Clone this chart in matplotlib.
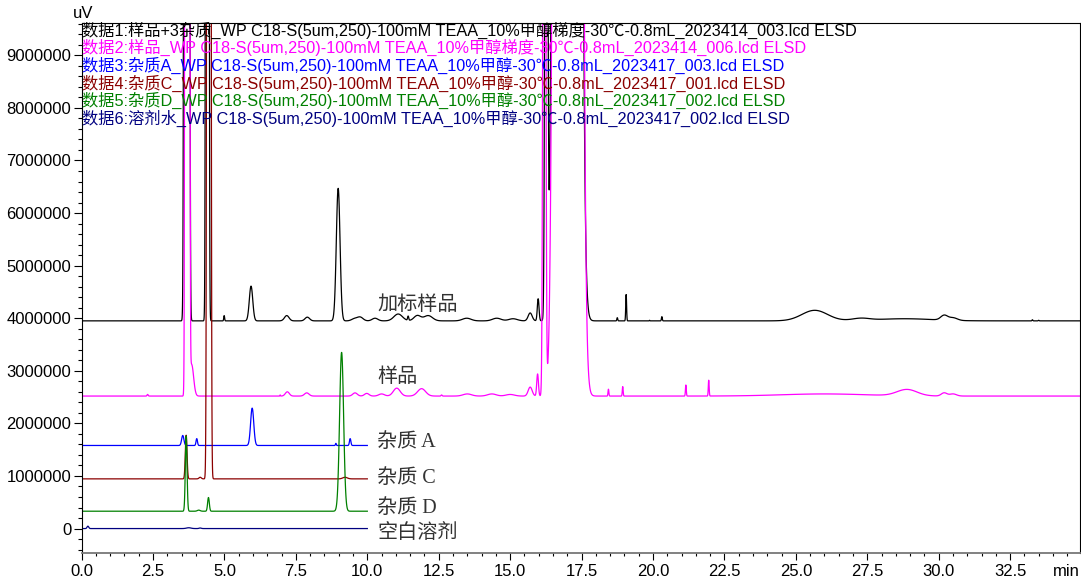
import numpy as np
import matplotlib
matplotlib.use('Agg')
import matplotlib.pyplot as plt
from matplotlib.ticker import MultipleLocator, FuncFormatter

plt.rcParams['font.family'] = ['Liberation Sans', 'Noto Sans CJK SC']
plt.rcParams['path.simplify'] = False

# header lines, one per run
run_names = [
    '数据1:样品+3杂质_WP C18-S(5um,250)-100mM TEAA_10%甲醇梯度-30℃-0.8mL_2023414_003.lcd ELSD',
    '数据2:样品_WP C18-S(5um,250)-100mM TEAA_10%甲醇梯度-30℃-0.8mL_2023414_006.lcd ELSD',
    '数据3:杂质A_WP C18-S(5um,250)-100mM TEAA_10%甲醇-30℃-0.8mL_2023417_003.lcd ELSD',
    '数据4:杂质C_WP C18-S(5um,250)-100mM TEAA_10%甲醇-30℃-0.8mL_2023417_001.lcd ELSD',
    '数据5:杂质D_WP C18-S(5um,250)-100mM TEAA_10%甲醇-30℃-0.8mL_2023417_002.lcd ELSD',
    '数据6:溶剂水_WP C18-S(5um,250)-100mM TEAA_10%甲醇-30℃-0.8mL_2023417_002.lcd ELSD',
]
trace_labels = ['加标样品', '样品', '杂质 A', '杂质 C', '杂质 D', '空白溶剂']
trace_colors = ['#000000', '#ff00ff', '#0000ff', '#8b0000', '#008000', '#000080']

# baseline level (uV) and run length (min) of each trace
baselines = [3.95e6, 2.52e6, 1.58e6, 0.945e6, 0.33e6, 0.0]
run_end = [35.0, 35.0, 10.0, 10.0, 10.0, 10.0]

# peak tables: retention time (min), height (uV), sigma (min)
# off-scale peaks get very large heights so they run past the top of the plot
spiked_rt = [3.68, 4.40, 4.99, 5.93, 7.18, 7.90, 8.98, 9.55, 9.75, 10.27, 11.08, 11.43, 11.75,
             12.13, 13.48, 14.53, 15.10, 15.70, 15.98, 16.265, 17.00, 18.75, 19.06, 19.88,
             20.31, 25.66, 27.27, 28.80, 30.19, 30.50, 33.28, 33.50]
spiked_h = [1e9, 2e8, 0.10e6, 0.66e6, 0.10e6, 0.07e6, 2.52e6, 0.04e6, 0.07e6, 0.05e6, 0.13e6,
            0.08e6, 0.10e6, 0.10e6, 0.05e6, 0.05e6, 0.04e6, 0.15e6, 0.42e6, 3e7, 1e9, 0.06e6,
            0.50e6, 0.01e6, 0.08e6, 0.20e6, 0.04e6, 0.04e6, 0.09e6, 0.05e6, 0.02e6, 0.01e6]
spiked_w = [0.037, 0.028, 0.015, 0.06, 0.08, 0.08, 0.065, 0.1, 0.1, 0.1, 0.15, 0.02, 0.12,
            0.15, 0.15, 0.15, 0.15, 0.07, 0.03, 0.035, 0.18, 0.015, 0.015, 0.01,
            0.015, 0.45, 0.3, 1.0, 0.12, 0.15, 0.015, 0.015]

sample_rt = [2.31, 3.70, 3.85, 6.95, 7.20, 7.88, 9.57, 9.98, 10.50, 11.03, 11.90, 12.60, 13.50,
             14.36, 15.00, 15.70, 15.96, 16.195, 17.025, 18.44, 18.94, 21.15, 21.95, 26.00,
             28.89, 30.19, 30.50]
sample_h = [0.03e6, 1e9, 0.6e6, 0.02e6, 0.08e6, 0.06e6, 0.06e6, 0.05e6, 0.04e6, 0.15e6, 0.14e6,
            0.02e6, 0.04e6, 0.04e6, 0.03e6, 0.17e6, 0.42e6, 3e7, 1e9, 0.13e6, 0.18e6, 0.21e6,
            0.30e6, 0.04e6, 0.12e6, 0.06e6, 0.04e6]
sample_w = [0.02, 0.031, 0.07, 0.01, 0.07, 0.08, 0.08, 0.08, 0.1, 0.12, 0.14, 0.02, 0.15,
            0.15, 0.15, 0.07, 0.03, 0.035, 0.183, 0.015, 0.015, 0.015, 0.015, 1.5,
            0.35, 0.1, 0.12]

imp_a_rt = [3.54, 4.03, 5.97, 8.90, 9.40]
imp_a_h = [0.19e6, 0.13e6, 0.71e6, 0.04e6, 0.13e6]
imp_a_w = [0.04, 0.025, 0.055, 0.015, 0.025]

imp_c_rt = [3.66, 4.15, 4.455, 9.22]
imp_c_h = [0.83e6, 0.03e6, 2e8, 0.03e6]
imp_c_w = [0.03, 0.04, 0.034, 0.08]

imp_d_rt = [3.66, 4.10, 4.44, 9.10]
imp_d_h = [1.43e6, 0.02e6, 0.26e6, 3.02e6]
imp_d_w = [0.03, 0.05, 0.03, 0.07]

blank_rt = [0.22, 3.75, 4.15]
blank_h = [0.045e6, 0.015e6, 0.01e6]
blank_w = [0.03, 0.08, 0.04]

peak_tables = [
    (spiked_rt, spiked_h, spiked_w),
    (sample_rt, sample_h, sample_w),
    (imp_a_rt, imp_a_h, imp_a_w),
    (imp_c_rt, imp_c_h, imp_c_w),
    (imp_d_rt, imp_d_h, imp_d_w),
    (blank_rt, blank_h, blank_w),
]


def build_trace(base, rts, hs, ws, t):
    y = np.full_like(t, base)
    for rt, h, w in zip(rts, hs, ws):
        y += h * np.exp(-0.5 * ((t - rt) / w) ** 2)
    return y


fig = plt.figure(figsize=(10.81, 5.81), dpi=100)
ax = fig.add_axes([0.0755, 0.049, 0.9237, 0.911])

for i in range(len(run_names)):
    t = np.linspace(0, run_end[i], int(run_end[i] * 400) + 1)
    rts, hs, ws = peak_tables[i]
    ax.plot(t, build_trace(baselines[i], rts, hs, ws, t), color=trace_colors[i], lw=0.9)

# header text, one line per run
for i, name in enumerate(run_names):
    ax.text(0.0, 0.987 - i * 0.0333, name, transform=ax.transAxes, color=trace_colors[i],
            fontsize=11.7, va='center', ha='left')

# trace labels to the right of the short runs
label_offsets = [0.30e6, 0.36e6, 0.05e6, 0.0, 0.06e6, -0.10e6]
for i, lab in enumerate(trace_labels):
    ax.text(10.34, baselines[i] + label_offsets[i], lab, color='#333333', fontsize=14.5,
            va='center', ha='left', family=['Liberation Serif', 'Noto Sans CJK SC'])

ax.set_xlim(0, 34.95)
ax.set_ylim(-0.456e6, 9.61e6)
ax.xaxis.set_major_locator(MultipleLocator(2.5))
ax.xaxis.set_minor_locator(MultipleLocator(0.5))
ax.yaxis.set_major_locator(MultipleLocator(1e6))
ax.yaxis.set_minor_locator(MultipleLocator(2e5))
ax.xaxis.set_major_formatter(FuncFormatter(lambda v, p: '%.1f' % v))
ax.yaxis.set_major_formatter(FuncFormatter(lambda v, p: '%d' % round(v)))
ax.tick_params(axis='both', which='major', labelsize=12, direction='out', width=0.8)
ax.tick_params(axis='y', which='major', length=6, pad=1.5)
ax.tick_params(axis='y', which='minor', length=3.2, width=0.8)
ax.tick_params(axis='x', which='major', length=4.8, pad=3.5)
ax.tick_params(axis='x', which='minor', length=2.4, width=0.8)
for s in ax.spines.values():
    s.set_linewidth(0.8)
ax.spines['bottom'].set_color('#777777')
ax.spines['bottom'].set_linewidth(1.3)

fig.text(73 / 1081, 1 - 14 / 581, 'uV', fontsize=12, ha='left', va='center')
fig.text(1080 / 1081, 1 - 572 / 581, 'min', fontsize=12, ha='right', va='center')

fig.savefig('out.png', dpi=100)
